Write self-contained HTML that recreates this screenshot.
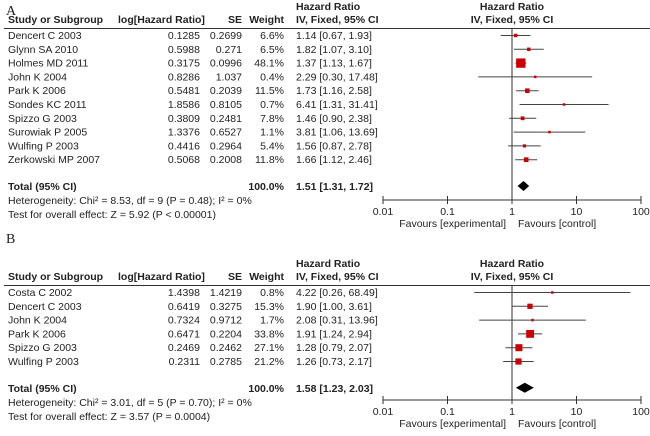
<!DOCTYPE html>
<html><head><meta charset="utf-8"><style>
body{margin:0;background:#fff;width:650px;height:431px;overflow:hidden}
svg text{font-family:"Liberation Sans",Arial,sans-serif;font-size:10.5px;fill:#222}
.b{font-weight:bold}
</style></head><body>
<svg id="c" width="650" height="431" viewBox="0 0 650 431" xmlns="http://www.w3.org/2000/svg"></svg>
<script>
const studiesA=["Dencert C 2003","Glynn SA 2010","Holmes MD 2011","John K 2004","Park K 2006","Sondes KC 2011","Spizzo G 2003","Surowiak P 2005","Wulfing P 2003","Zerkowski MP 2007"];
const logHRA=["0.1285","0.5988","0.3175","0.8286","0.5481","1.8586","0.3809","1.3376","0.4416","0.5068"];
const seA=["0.2699","0.271","0.0996","1.037","0.2039","0.8105","0.2481","0.6527","0.2964","0.2008"];
const weightA=[6.6,6.5,48.1,0.4,11.5,0.7,7.8,1.1,5.4,11.8];
const hrA=[1.14,1.82,1.37,2.29,1.73,6.41,1.46,3.81,1.56,1.66];
const loA=[0.67,1.07,1.13,0.30,1.16,1.31,0.90,1.06,0.87,1.12];
const hiA=[1.93,3.10,1.67,17.48,2.58,31.41,2.38,13.69,2.78,2.46];
const totalA=[1.51,1.31,1.72];
const studiesB=["Costa C 2002","Dencert C 2003","John K 2004","Park K 2006","Spizzo G 2003","Wulfing P 2003"];
const logHRB=["1.4398","0.6419","0.7324","0.6471","0.2469","0.2311"];
const seB=["1.4219","0.3275","0.9712","0.2204","0.2462","0.2785"];
const weightB=[0.8,15.3,1.7,33.8,27.1,21.2];
const hrB=[4.22,1.90,2.08,1.91,1.28,1.26];
const loB=[0.26,1.00,0.31,1.24,0.79,0.73];
const hiB=[68.49,3.61,13.96,2.94,2.07,2.17];
const totalB=[1.58,1.23,2.03];
const ticks=[0.01,0.1,1,10,100];
const tickLabels=["0.01","0.1","1","10","100"];

const svg=document.getElementById('c');
const NS="http://www.w3.org/2000/svg";
function el(tag,attrs,txt){const e=document.createElementNS(NS,tag);for(const k in attrs)e.setAttribute(k,attrs[k]);if(txt!==undefined)e.textContent=txt;svg.appendChild(e);return e;}
const X=v=>512+64.5*Math.log10(v);
const f2=v=>v.toFixed(2);

function panel(letter,letterY,y0,axisY,studies,logHR,se,weight,hr,lo,hi,total,het,test){
  let t=el('text',{x:6,y:letterY,style:'font-family:"Liberation Serif",serif;font-size:14px'},letter);
  
  const hy=y0+10;
  t=el('text',{x:512,y:hy,'class':'b','text-anchor':'middle'},'Hazard Ratio');
  t=el('text',{x:296,y:hy,'class':'b'},'Hazard Ratio');
  const h2=y0+23;
  [['Study or Subgroup',8,'start'],['log[Hazard Ratio]',118,'start'],['SE',242,'end'],['Weight',284,'end'],['IV, Fixed, 95% CI',296,'start'],['IV, Fixed, 95% CI',512,'middle']].forEach(h=>{
    t=el('text',{x:h[1],y:h2,'class':'b','text-anchor':h[2]},h[0]);
  });
  let l=el('line',{x1:4,x2:650,y1:y0+28.5,y2:y0+28.5,stroke:'#333','stroke-width':1});
  const rowY=i=>y0+39+i*13.8;
  l=el('line',{x1:X(1),x2:X(1),y1:y0+29,y2:axisY,stroke:'#333','stroke-width':1});
  studies.forEach((s,i)=>{
    const y=rowY(i);
    [[s,8,'start'],[logHR[i],200,'end'],[se[i],242,'end'],[weight[i].toFixed(1)+'%',284,'end'],[f2(hr[i])+' ['+f2(lo[i])+', '+f2(hi[i])+']',296,'start']].forEach(c=>{
      t=el('text',{x:c[1],y:y,'text-anchor':c[2]},c[0]);
    });
    const cy=y-3.5;
    l=el('line',{x1:X(lo[i]),x2:X(hi[i]),y1:cy,y2:cy,stroke:'#444','stroke-width':1});
    const sz=Math.max(2.5,1.35*Math.sqrt(weight[i]));
    const r=el('rect',{x:X(hr[i])-sz/2,y:cy-sz/2,width:sz,height:sz,fill:'#cc0000'});
  });
  const ty=rowY(studies.length)+13;
  t=el('text',{x:8,y:ty,'class':'b'},'Total (95% CI)');
  t=el('text',{x:284,y:ty,'class':'b','text-anchor':'end'},'100.0%');
  t=el('text',{x:296,y:ty,'class':'b'},f2(total[0])+' ['+f2(total[1])+', '+f2(total[2])+']');
  const dy=ty-4;
  const d=el('polygon',{points:`${X(total[1])-2},${dy} ${X(total[0])},${dy-5} ${X(total[2])+2},${dy} ${X(total[0])},${dy+5}`,fill:'#000'});
  t=el('text',{x:8,y:ty+14},het);
  t=el('text',{x:8,y:ty+28},test);
  l=el('line',{x1:X(0.01),x2:X(100),y1:axisY,y2:axisY,stroke:'#333','stroke-width':1});
  ticks.forEach((v,i)=>{
    l=el('line',{x1:X(v),x2:X(v),y1:axisY-4,y2:axisY+4,stroke:'#333','stroke-width':1});
    t=el('text',{x:X(v),y:axisY+15,'text-anchor':'middle'},tickLabels[i]);
  });
  t=el('text',{x:X(1)-6,y:axisY+27,'text-anchor':'end'},'Favours [experimental]');
  t=el('text',{x:X(1)+6,y:axisY+27},'Favours [control]');
}
panel('A',15,0,200,studiesA,logHRA,seA,weightA,hrA,loA,hiA,totalA,'Heterogeneity: Chi² = 8.53, df = 9 (P = 0.48); I² = 0%','Test for overall effect: Z = 5.92 (P < 0.00001)');
panel('B',243,257,400,studiesB,logHRB,seB,weightB,hrB,loB,hiB,totalB,'Heterogeneity: Chi² = 3.01, df = 5 (P = 0.70); I² = 0%','Test for overall effect: Z = 3.57 (P = 0.0004)');
</script>
</body></html>
